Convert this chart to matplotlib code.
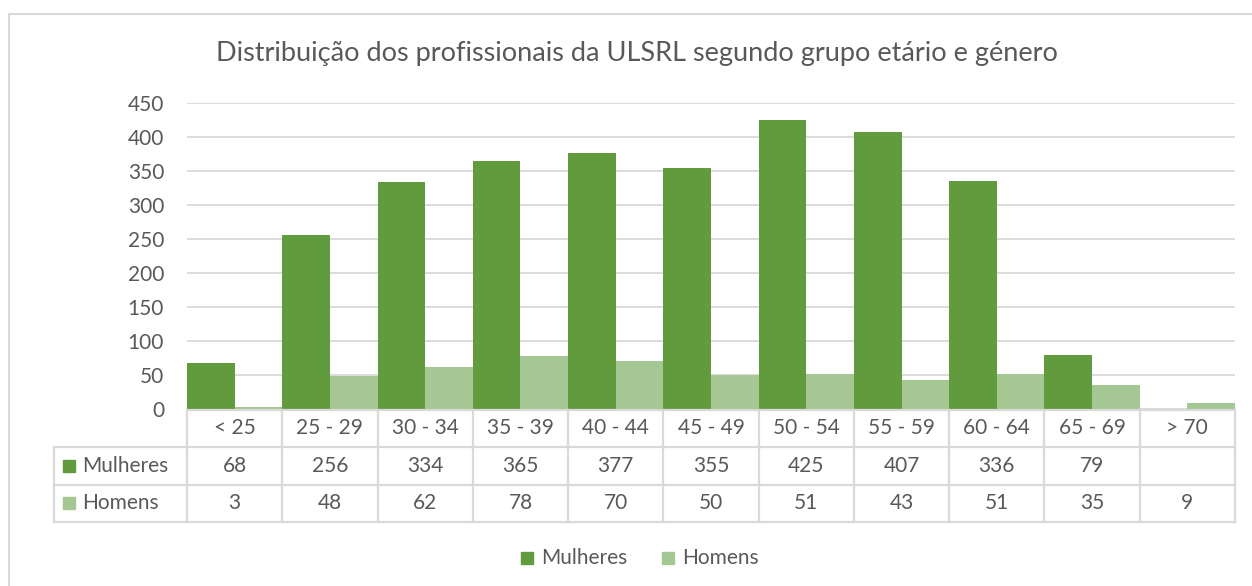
import matplotlib.pyplot as plt
import numpy as np

# dados
grupos = ["< 25", "25 - 29", "30 - 34", "35 - 39", "40 - 44", "45 - 49",
          "50 - 54", "55 - 59", "60 - 64", "65 - 69", "> 70"]
mulheres = [68, 256, 334, 365, 377, 355, 425, 407, 336, 79, None]
homens = [3, 48, 62, 78, 70, 50, 51, 43, 51, 35, 9]
series = ["Mulheres", "Homens"]

titulo = "Distribuição dos profissionais da ULSRL segundo grupo etário e género"

cor_m = "#629A3E"
cor_h = "#A4C793"
cor_txt = "#595959"
cor_linha = "#D9D9D9"
fs = 15

plt.rcParams['font.family'] = ['Lato', 'DejaVu Sans']

W, H = 1252, 586
fig = plt.figure(figsize=(W / 100, H / 100), dpi=100)


def caixa(x0, y0, x1, y1):
    # pixels (topo-esquerda) -> fracção da figura
    return [x0 / W, 1 - y1 / H, (x1 - x0) / W, (y1 - y0) / H]


# --- gráfico de barras ---
ax = fig.add_axes(caixa(187, 103, 1235, 409))
n = len(grupos)
x = np.arange(n)
vm = np.array([np.nan if v is None else v for v in mulheres], dtype=float)
vh = np.array(homens, dtype=float)
ax.bar(x - 0.25, np.nan_to_num(vm), width=0.5, color=cor_m, zorder=3)
ax.bar(x + 0.25, vh, width=0.5, color=cor_h, zorder=3)
ax.set_xlim(-0.5, n - 0.5)
ax.set_ylim(0, 450)
ax.set_yticks(range(0, 451, 50))
ax.yaxis.grid(True, color=cor_linha, lw=1.3, zorder=0)
ax.set_xticks([])
for s in ax.spines.values():
    s.set_visible(False)
ax.tick_params(axis='y', length=0, pad=16.5, labelsize=fs, labelcolor=cor_txt)

# --- tabela de dados (desenhada em pixels) ---
tb = fig.add_axes([0, 0, 1, 1])
tb.set_xlim(0, W)
tb.set_ylim(H, 0)
tb.axis('off')

x_esq, x_tab, x_dir = 54, 187, 1235
linhas_y = [410, 447, 485, 522]
larg = (x_dir - x_tab) / n
lw = 1.6

# moldura do gráfico
tb.plot([9, 9], [14, H], color=cor_linha, lw=1.5)
tb.plot([9, W], [14, 14], color=cor_linha, lw=1.5)

tb.plot([x_tab, x_dir], [linhas_y[0]] * 2, color=cor_linha, lw=lw)
for yy in linhas_y[1:]:
    tb.plot([x_esq, x_dir], [yy, yy], color=cor_linha, lw=lw)
tb.plot([x_esq, x_esq], [linhas_y[1], linhas_y[3]], color=cor_linha, lw=lw)
for i in range(n + 1):
    xx = x_tab + i * larg
    tb.plot([xx, xx], [linhas_y[0], linhas_y[3]], color=cor_linha, lw=lw)

for i, g in enumerate(grupos):
    cx = x_tab + (i + 0.5) * larg
    tb.text(cx, 428, g, ha='center', va='center', fontsize=fs, color=cor_txt)
    if mulheres[i] is not None:
        tb.text(cx, 466, str(mulheres[i]), ha='center', va='center',
                fontsize=fs, color=cor_txt)
    tb.text(cx, 503, str(homens[i]), ha='center', va='center',
            fontsize=fs, color=cor_txt)

for nome, cor, cy in zip(series, [cor_m, cor_h], [466, 503]):
    tb.add_patch(plt.Rectangle((63, cy - 6), 12, 12, color=cor))
    tb.text(82, cy, nome, ha='left', va='center', fontsize=fs, color=cor_txt)

# legenda inferior
for nome, cor, xq in zip(series, [cor_m, cor_h], [521, 662]):
    tb.add_patch(plt.Rectangle((xq, 552), 12, 12, color=cor))
    tb.text(xq + 20, 558, nome, ha='left', va='center', fontsize=fs, color=cor_txt)

# título
tb.text(637, 53, titulo, ha='center', va='center', fontsize=19.5, color=cor_txt)

fig.savefig("out.png", dpi=100)
